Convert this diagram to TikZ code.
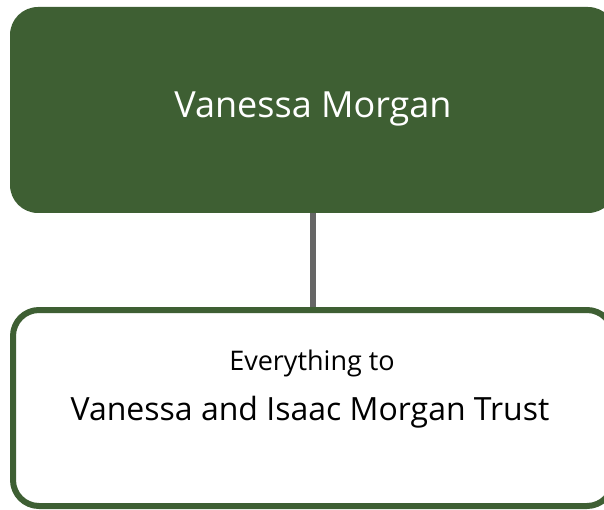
\documentclass[tikz,border=0pt]{standalone}
\usepackage{fontspec}
\setmainfont{Open Sans}
\usepackage{tikz}
\usetikzlibrary{positioning}
\usetikzlibrary{calc}
\definecolor{heirgreen}{HTML}{3E5F33}
\definecolor{linkgray}{HTML}{666666}

\begin{document}
\begin{tikzpicture}[x=1pt, y=1pt,
	personbox/.style = {rectangle, rounded corners=28pt, fill=heirgreen,
		minimum width=606pt, minimum height=206pt, inner sep=0pt},
	giftbox/.style = {rectangle, rounded corners=26pt, draw=heirgreen, line width=6pt,
		fill=white, minimum width=600pt, minimum height=196pt, inner sep=0pt},
	link/.style = {draw=linkgray, line width=6pt}]
\useasboundingbox (0,0) rectangle (604,-510);
\clip (0,0) rectangle (604,-510);

\node[personbox] (person) at (313,-110) {};
\node[giftbox] (gift) at (313,-408) {};

\node[anchor=base, text=white, font=\fontsize{36}{40}\selectfont] (name) at (313,-118) {Vanessa Morgan};
\node[anchor=base, font=\fontsize{27}{30}\selectfont] (what) at (312,-370) {Everything to};
\node[anchor=base, font=\fontsize{32}{36}\selectfont] (trust) at (310,-420) {Vanessa and Isaac Morgan Trust};

\draw[link] (person.south) -- (gift.north);
\end{tikzpicture}
\end{document}
